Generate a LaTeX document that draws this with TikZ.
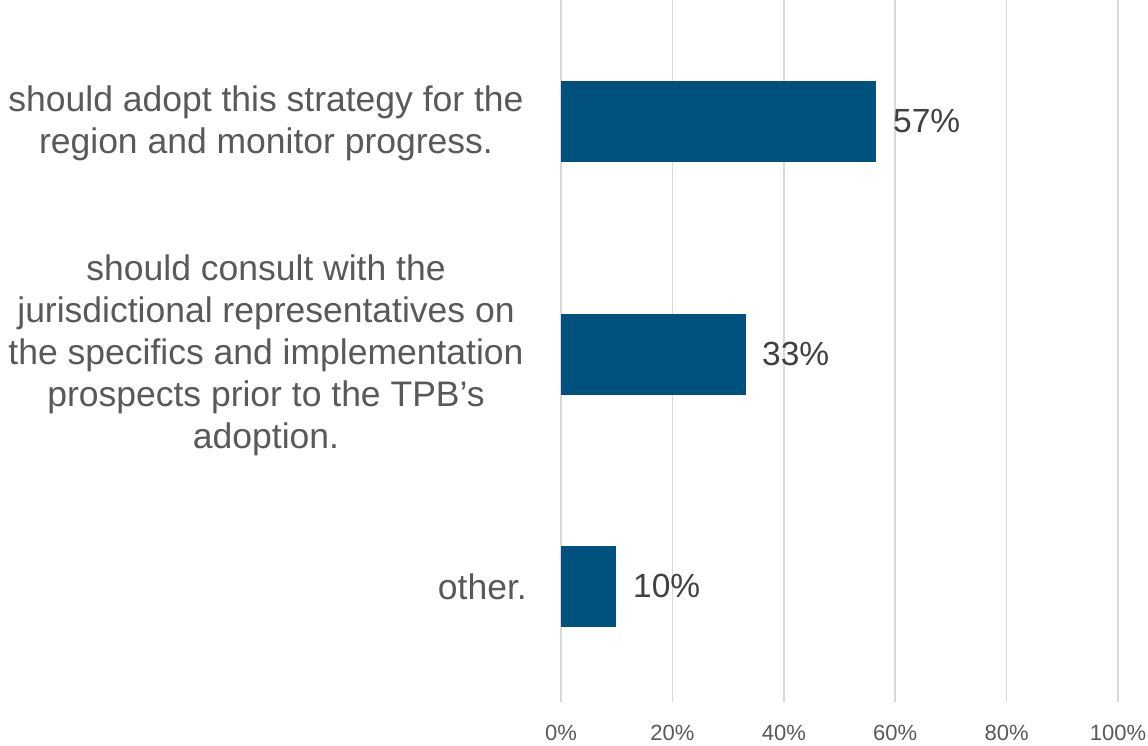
\documentclass[tikz,border=0pt]{standalone}
\usepackage{fontspec}
\setmainfont{Liberation Sans}
\definecolor{barblue}{RGB}{0,81,126}
\definecolor{labelgray}{RGB}{89,89,89}
\definecolor{valgray}{RGB}{64,64,64}
\definecolor{gridgray}{RGB}{217,217,217}
\tikzset{
  gridline/.style={draw=gridgray, line width=1.5pt},
  barbox/.style={fill=barblue, draw=none, anchor=west, minimum height=81pt, inner sep=0pt, outer sep=0pt},
  vallabel/.style={anchor=west, inner sep=0pt, text=valgray, font=\fontsize{33.5}{38}\selectfont},
  catlabel/.style={align=center, text=labelgray, inner sep=0pt, font=\fontsize{35.5}{42}\selectfont},
  ticklabel/.style={text=labelgray, inner sep=0pt, font=\fontsize{22}{26}\selectfont}
}
\begin{document}
\begin{tikzpicture}[x=1pt,y=-1pt]
\useasboundingbox (0,0) rectangle (1148,746);
\foreach \i/\t in {0/0\%,1/20\%,2/40\%,3/60\%,4/80\%,5/100\%}{
  \coordinate (gt\i) at ({561+111.4*\i},0);
  \coordinate (gb\i) at ({561+111.4*\i},702);
  \draw[gridline] (gt\i) -- (gb\i);
  \node[ticklabel] (tick\i) at ({561+111.4*\i},733) {\t};
}
\node[barbox, minimum width=315pt] (bar1) at (561,121.5) {};
\node[barbox, minimum width=185pt] (bar2) at (561,354) {};
\node[barbox, minimum width=55pt] (bar3) at (561,586) {};
\node[vallabel] (val1) at ([xshift=17pt]bar1.east) {57\%};
\node[vallabel] (val2) at ([xshift=16pt]bar2.east) {33\%};
\node[vallabel] (val3) at ([xshift=17pt]bar3.east) {10\%};
\node[catlabel] (cat1) at (266,123) {should adopt this strategy for the\\region and monitor progress.};
\node[catlabel] (cat2) at (266,355) {should consult with the\\jurisdictional representatives on\\the specifics and implementation\\prospects prior to the TPB’s\\adoption.};
\node[catlabel, anchor=east] (cat3) at (527,587) {other.};
\end{tikzpicture}
\end{document}
